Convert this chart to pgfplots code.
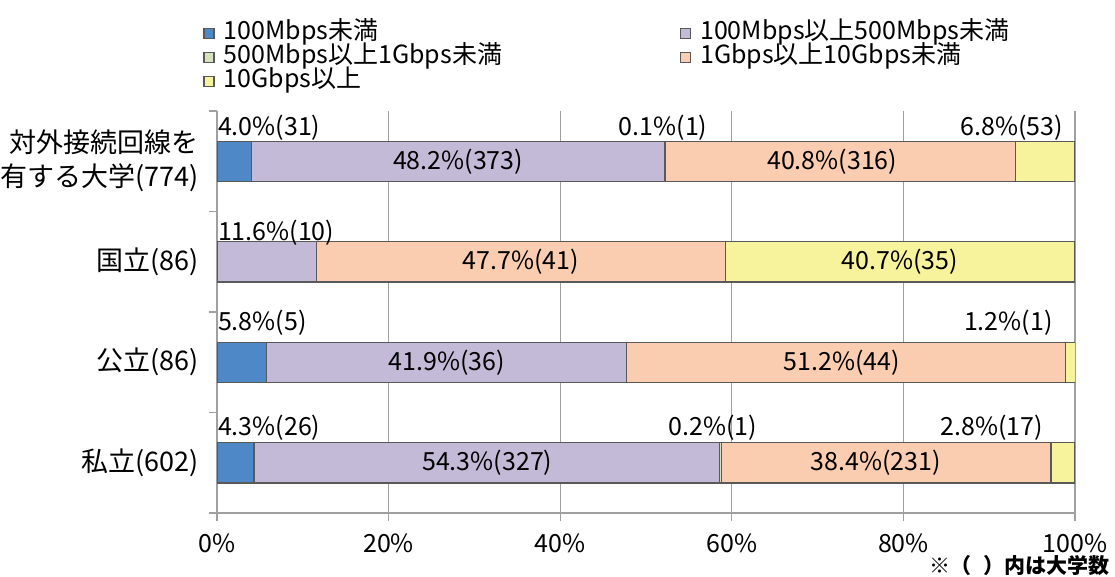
\documentclass[border=0pt]{standalone}
\usepackage{fontspec}
\setmainfont{Noto Sans CJK JP}
\usepackage{pgfplots}
\pgfplotsset{compat=1.18}
\definecolor{cA}{HTML}{4F88C6}
\definecolor{cB}{HTML}{C2BAD6}
\definecolor{cC}{HTML}{D6E3BD}
\definecolor{cD}{HTML}{FBCDB0}
\definecolor{cE}{HTML}{F7F39C}
\definecolor{edge}{HTML}{595959}
\definecolor{gridc}{HTML}{A0A0A0}
\newcommand{\lf}{\fontsize{25}{25}\selectfont}
\begin{document}
\begin{tikzpicture}[x=1pt,y=1pt]
\useasboundingbox (0,0) rectangle (1115,576);
\begin{axis}[
 at={(217pt,63pt)}, anchor=south west,
 scale only axis, width=858pt, height=402pt,
 xbar stacked, bar width=0.4,
 xmin=0, xmax=100, ymin=-0.5, ymax=3.5,
 axis x line*=bottom, axis y line*=left,
 axis line style={draw=gridc, line width=1.5pt},
 xtick={0,20,...,100},
 xticklabel={\pgfmathprintnumber{\tick}\%},
 /pgf/number format/assume math mode=true,
 xmajorgrids, grid style={draw=gridc, line width=1.2pt},
 tick align=outside,
 major tick length=8pt, minor tick length=8pt,
 tick style={draw=gridc, line width=1.2pt},
 ytick={0,1,2,3},
 yticklabels={私立(602),公立(86),国立(86),{対外接続回線を\\有する大学(774)}},
 minor ytick={-0.5,0.5,1.5,2.5,3.5},
 major y tick style={draw=none},
 xticklabel style={font=\lf, anchor=center, yshift=-22pt},
 yticklabel style={font=\fontsize{27}{34}\selectfont, align=right, anchor=east, inner sep=0pt, xshift=-10pt},
 every axis plot post/.append style={draw=edge, line width=1.3pt,
   legend image code/.code={\draw[##1,draw=edge,line width=1.5pt] (0pt,-5pt) rectangle (10pt,5pt);}},
 legend style={at={(-0.0163,1.2226)}, anchor=north west, draw=none, fill=none,
   legend columns=2, inner sep=0pt, font=\lf,
   nodes={text width=447pt, inner xsep=9pt, inner ysep=0pt, text height=18pt, text depth=6pt}},
 legend cell align=left,
]
\addplot[fill=cA] coordinates {(4.3,0) (5.8,1) (0,2) (4.0,3)};
\addplot[fill=cB] coordinates {(54.3,0) (41.9,1) (11.6,2) (48.2,3)};
\addplot[fill=cC] coordinates {(0.2,0) (0,1) (0,2) (0.1,3)};
\addplot[fill=cD] coordinates {(38.4,0) (51.2,1) (47.7,2) (40.8,3)};
\addplot[fill=cE] coordinates {(2.8,0) (1.2,1) (40.7,2) (6.8,3)};
\legend{100Mbps未満, 100Mbps以上500Mbps未満, 500Mbps以上1Gbps未満, 1Gbps以上10Gbps未満, 10Gbps以上}
% label anchors
\coordinate (a1) at (axis cs:0.1,3.33);
\coordinate (a2) at (axis cs:28.1,3);
\coordinate (a3) at (axis cs:52.0,3.33);
\coordinate (a4) at (axis cs:71.7,3);
\coordinate (a5) at (axis cs:98.6,3.33);
\coordinate (b1) at (axis cs:0.1,2.29);
\coordinate (b2) at (axis cs:35.4,2);
\coordinate (b3) at (axis cs:79.6,2);
\coordinate (c1) at (axis cs:0.1,1.39);
\coordinate (c2) at (axis cs:26.8,1);
\coordinate (c3) at (axis cs:72.8,1);
\coordinate (c4) at (axis cs:97.4,1.39);
\coordinate (d1) at (axis cs:0.1,0.35);
\coordinate (d2) at (axis cs:31.5,0);
\coordinate (d3) at (axis cs:57.8,0.35);
\coordinate (d4) at (axis cs:76.8,0);
\coordinate (d5) at (axis cs:96.3,0.35);
\end{axis}
\begin{scope}[every node/.style={font=\lf, inner sep=0pt}]
\node[anchor=west] at (a1) {4.0\%(31)};
\node at (a2) {48.2\%(373)};
\node at (a3) {0.1\%(1)};
\node at (a4) {40.8\%(316)};
\node[anchor=east] at (a5) {6.8\%(53)};
\node[anchor=west] at (b1) {11.6\%(10)};
\node at (b2) {47.7\%(41)};
\node at (b3) {40.7\%(35)};
\node[anchor=west] at (c1) {5.8\%(5)};
\node at (c2) {41.9\%(36)};
\node at (c3) {51.2\%(44)};
\node[anchor=east] at (c4) {1.2\%(1)};
\node[anchor=west] at (d1) {4.3\%(26)};
\node at (d2) {54.3\%(327)};
\node at (d3) {0.2\%(1)};
\node at (d4) {38.4\%(231)};
\node[anchor=east] at (d5) {2.8\%(17)};
\end{scope}
\node[anchor=east, inner sep=0pt, font=\bfseries\fontsize{21}{21}\selectfont] at (1110,10) {※（\hspace{12pt}）内は大学数};
\end{tikzpicture}
\end{document}
